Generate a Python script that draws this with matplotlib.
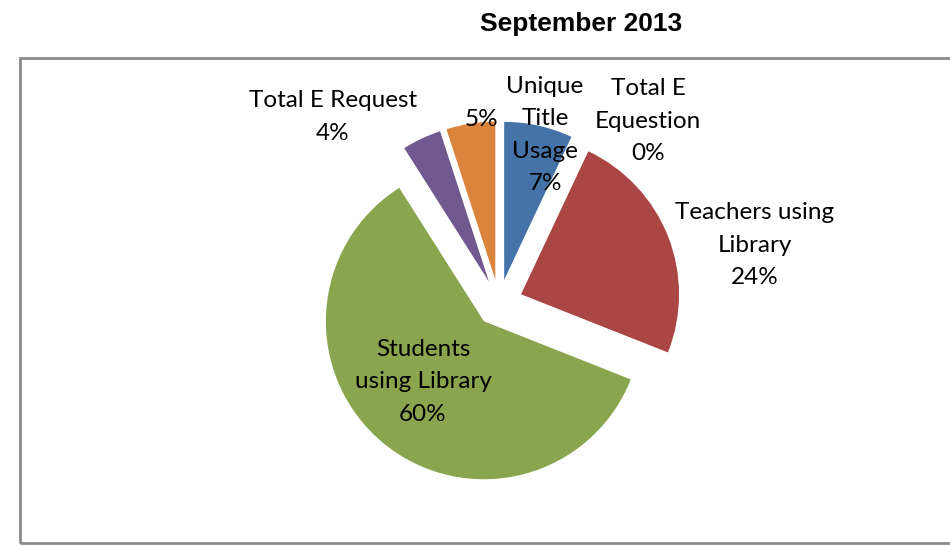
import matplotlib
matplotlib.use("Agg")
import matplotlib.pyplot as plt
from matplotlib.patches import Rectangle

# ---- data ----
categories = ["Unique\nTitle\nUsage", "Total E\nEquestion", "Teachers using\nLibrary",
              "Students\nusing Library", "Total E Request", ""]
values = [7, 0, 24, 60, 4, 5]
colors = ["#4572A7", "#4198AF", "#AA4643", "#89A54E", "#71588F", "#DB843D"]

# ---- layout (pixel units) ----
W, H = 950, 545
center = (499, H - 303)
radius = 158
explode = [0.15 * radius] * len(values)
# label offsets from pie centre (dx, dy) in pixels, y up
label_offsets = [(46, 168), (149, 182), (256, 58), (-76, -79), (-166, 186), (-18, 183)]

fig = plt.figure(figsize=(9.5, 5.45), dpi=100)
ax = fig.add_axes([0, 0, 1, 1])

ax.add_patch(Rectangle((20, 2), W, H - 60, fill=False, edgecolor="#8c8c8c", linewidth=2))

ax.pie(values, colors=colors, startangle=90, counterclock=False, explode=explode,
       radius=radius, center=center, frame=True, wedgeprops=dict(linewidth=0))
ax.set_xlim(0, W)
ax.set_ylim(0, H)
ax.set_aspect("equal")
ax.axis("off")

total = sum(values)
for cat, v, (dx, dy) in zip(categories, values, label_offsets):
    pct = f"{round(100 * v / total)}%"
    txt = f"{cat}\n{pct}" if cat else pct
    ax.text(center[0] + dx, center[1] + dy, txt, ha="center", va="center",
            fontsize=17.5, family="Lato", color="black", linespacing=1.65)

fig.text(581 / W, 1 - 24 / H, "September 2013", ha="center", va="center",
         fontsize=19, fontweight="bold", family="Liberation Sans")

fig.savefig("out.png", dpi=100)
